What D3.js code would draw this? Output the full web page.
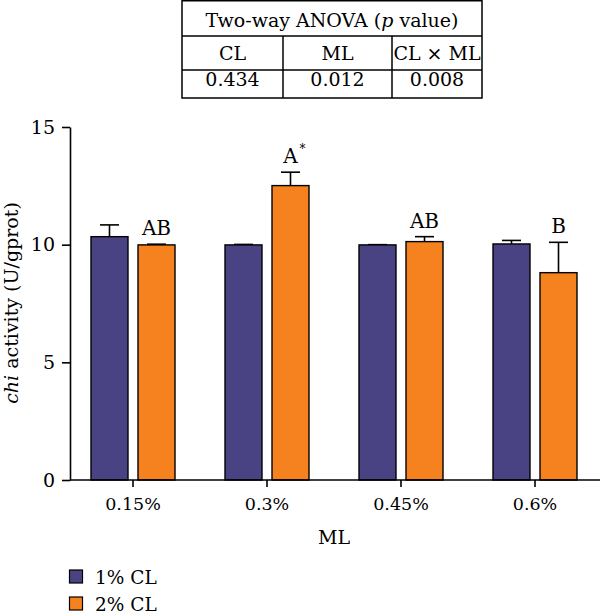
<!DOCTYPE html>
<html><head><meta charset="utf-8">
<script src="https://cdn.jsdelivr.net/npm/d3@7"></script>
<style>
body{margin:0;background:#fff;}
svg{display:block;font-family:"DejaVu Serif",serif;}
</style></head>
<body>
<script>
const categories = ["0.15%", "0.3%", "0.45%", "0.6%"];
const seriesNames = ["1% CL", "2% CL"];
const cl1 = [10.34, 9.99, 9.99, 10.03];
const cl1Err = [0.50, 0.02, 0.01, 0.15];
const cl2 = [9.99, 12.51, 10.13, 8.81];
const cl2Err = [0.03, 0.57, 0.21, 1.29];
const letters = ["AB", "A", "AB", "B"];
const stars = ["", "*", "", ""];
const yTicks = [0, 5, 10, 15];
const tableHeader = ["Two-way ANOVA (", "p", " value)"];
const tableCols = ["CL", "ML", "CL × ML"];
const tableVals = ["0.434", "0.012", "0.008"];
const colors = ["#494283", "#f5821f"];

const W = 600, H = 613;
const svg = d3.select("body").append("svg").attr("width", W).attr("height", H);

// table
const colEdges = [182, 283, 392, 482];
const rowEdges = [0.75, 36, 70, 98];
const tg = svg.append("g").attr("stroke", "#000").attr("stroke-width", 1.5).attr("fill", "none");
tg.append("rect").attr("x", colEdges[0]).attr("y", rowEdges[0]).attr("width", colEdges[3] - colEdges[0]).attr("height", rowEdges[3] - rowEdges[0]);
tg.selectAll("line.h").data([rowEdges[1], rowEdges[2]]).join("line")
  .attr("x1", colEdges[0]).attr("x2", colEdges[3]).attr("y1", d => d).attr("y2", d => d);
tg.selectAll("line.v").data([colEdges[1], colEdges[2]]).join("line")
  .attr("x1", d => d).attr("x2", d => d).attr("y1", rowEdges[1]).attr("y2", rowEdges[3]);
const ht = svg.append("text").attr("x", (colEdges[0] + colEdges[3]) / 2).attr("y", 27)
  .attr("text-anchor", "middle").attr("font-size", 19);
ht.append("tspan").text(tableHeader[0]);
ht.append("tspan").attr("font-style", "italic").text(tableHeader[1]);
ht.append("tspan").text(tableHeader[2]);
tableCols.forEach((c, i) => {
  svg.append("text").attr("x", (colEdges[i] + colEdges[i + 1]) / 2).attr("y", 60)
    .attr("text-anchor", "middle").attr("font-size", 19).text(c);
  svg.append("text").attr("x", (colEdges[i] + colEdges[i + 1]) / 2).attr("y", 86)
    .attr("text-anchor", "middle").attr("font-size", 19).text(tableVals[i]);
});

// scales
const x = d3.scaleBand().domain(categories).range([66, 602]);
const xs = d3.scaleBand().domain(seriesNames).range([-42, 42]).paddingInner(0.213);
const y = d3.scaleLinear().domain([0, 15]).range([480, 127]);

const series = [
  {name: seriesNames[0], vals: cl1, errs: cl1Err, color: colors[0]},
  {name: seriesNames[1], vals: cl2, errs: cl2Err, color: colors[1]}
];

// error bars & bars
series.forEach(s => {
  const g = svg.append("g");
  categories.forEach((c, i) => {
    const cx = x(c) + x.bandwidth() / 2 + xs(s.name) + xs.bandwidth() / 2;
    const top = y(s.vals[i] + s.errs[i]);
    g.append("line").attr("x1", cx).attr("x2", cx).attr("y1", y(s.vals[i])).attr("y2", top)
      .attr("stroke", "#000").attr("stroke-width", 1.6);
    g.append("line").attr("x1", cx - 9.5).attr("x2", cx + 9.5).attr("y1", top).attr("y2", top)
      .attr("stroke", "#000").attr("stroke-width", 1.6);
  });
  g.selectAll("rect").data(s.vals).join("rect")
    .attr("x", (d, i) => x(categories[i]) + x.bandwidth() / 2 + xs(s.name))
    .attr("width", xs.bandwidth())
    .attr("y", d => y(d))
    .attr("height", d => y(0) - y(d))
    .attr("fill", s.color).attr("stroke", "#000").attr("stroke-width", 1.4);
});

// letters
categories.forEach((c, i) => {
  const cx = x(c) + x.bandwidth() / 2 + xs(seriesNames[1]) + xs.bandwidth() / 2;
  svg.append("text").attr("x", cx).attr("y", y(cl2[i] + cl2Err[i]) - 9)
    .attr("text-anchor", "middle").attr("font-size", 20).text(letters[i]);
  if (stars[i]) {
    svg.append("text").attr("x", cx + 12).attr("y", y(cl2[i] + cl2Err[i]) - 19)
      .attr("text-anchor", "middle").attr("font-size", 12).text(stars[i]);
  }
});

// y axis
const ya = svg.append("g").attr("transform", "translate(70,0)")
  .call(d3.axisLeft(y).tickValues(yTicks).tickSize(8).tickPadding(7).tickSizeOuter(0));
ya.select(".domain").attr("stroke-width", 1.6);
ya.selectAll(".tick line").attr("stroke-width", 1.6);
ya.selectAll("text").attr("font-family", "DejaVu Serif").attr("font-size", 19).attr("fill", "#000");

// x axis
const xa = svg.append("g").attr("transform", "translate(0,480)")
  .call(d3.axisBottom(x).tickSize(7).tickPadding(11).tickSizeOuter(0));
xa.select(".domain").remove();
xa.append("line").attr("x1", 70).attr("x2", 600).attr("stroke", "#000").attr("stroke-width", 1.6);
xa.selectAll(".tick line").attr("stroke-width", 1.6);
xa.selectAll("text").attr("font-family", "DejaVu Serif").attr("font-size", 17.5).attr("fill", "#000");

// axis titles
svg.append("text").attr("x", 334).attr("y", 544).attr("text-anchor", "middle").attr("font-size", 19).text("ML");
const yl = svg.append("text").attr("transform", "translate(18,303) rotate(-90)")
  .attr("text-anchor", "middle").attr("font-size", 19);
yl.append("tspan").attr("font-style", "italic").text("chi");
yl.append("tspan").text(" activity (U/gprot)");

// legend
series.forEach((s, i) => {
  const ly = 570 + i * 27;
  svg.append("rect").attr("x", 69.5).attr("y", ly).attr("width", 13).attr("height", 13)
    .attr("fill", s.color).attr("stroke", "#000").attr("stroke-width", 1.2);
  svg.append("text").attr("x", 95).attr("y", ly + 13.5).attr("font-size", 18.5).text(s.name);
});
</script>
</body></html>
